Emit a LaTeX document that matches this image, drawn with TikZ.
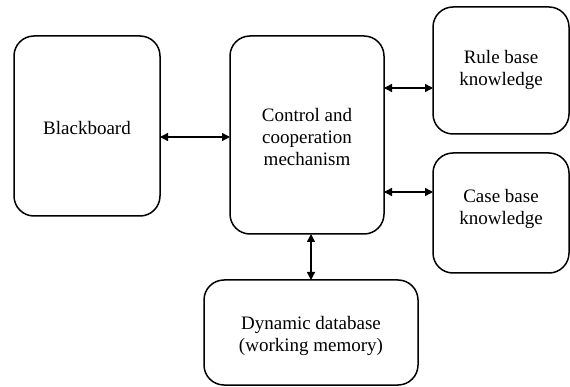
\documentclass[tikz,border=0pt]{standalone}
\usepackage{fontspec}
\setmainfont{Liberation Serif}
\usetikzlibrary{arrows.meta}
\begin{document}
\begin{tikzpicture}[x=1pt,y=-1pt,
  blk/.style={draw=black, line width=1.5pt, rounded corners=20pt, fill=white},
  lbl/.style={align=center, font=\fontsize{19}{22}\selectfont},
  conn/.style={line width=1.4pt, {Triangle[length=8pt,width=8pt]}-{Triangle[length=8pt,width=8pt]}}]
\useasboundingbox (0,0) rectangle (570,387);
% boxes
\draw[blk] (14,36) rectangle (160,216);
\node[lbl] (bb) at (87,128) {Blackboard};
\coordinate (bbE) at (160,137);
\draw[blk] (230,36) rectangle (384,234);
\node[lbl] (cc) at (307,137) {Control and\\cooperation\\mechanism};
\coordinate (ccW) at (230,137);
\coordinate (ccE1) at (384,88);
\coordinate (ccE2) at (384,192);
\coordinate (ccS) at (311,234);
\draw[blk] (433,7) rectangle (569,134);
\node[lbl] (rb) at (501,70) {Rule base\\knowledge};
\coordinate (rbW) at (433,88);
\draw[blk] (433,153) rectangle (569,273);
\node[lbl] (cb) at (501,209) {Case base\\knowledge};
\coordinate (cbW) at (433,192);
\draw[blk] (204,280) rectangle (418,385);
\node[lbl] (db) at (311,336) {Dynamic database\\(working memory)};
\coordinate (dbN) at (311,280);
% connectors
\draw[conn] (bbE) -- (ccW);
\draw[conn] (ccE1) -- (rbW);
\draw[conn] (ccE2) -- (cbW);
\draw[conn] (ccS) -- (dbN);
\end{tikzpicture}
\end{document}
